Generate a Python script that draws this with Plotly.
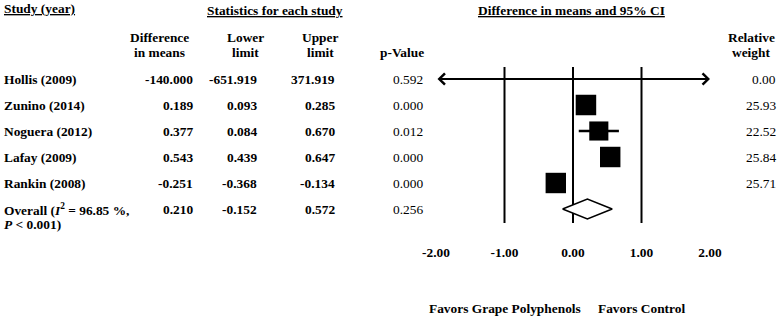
import plotly.graph_objects as go
import math

# ---------------- data ----------------
studies = ["Hollis (2009)", "Zunino (2014)", "Noguera (2012)", "Lafay (2009)", "Rankin (2008)"]
diff_means = [-140.000, 0.189, 0.377, 0.543, -0.251]
lower_limits = [-651.919, 0.093, 0.084, 0.439, -0.368]
upper_limits = [371.919, 0.285, 0.670, 0.647, -0.134]
p_values = [0.592, 0.000, 0.012, 0.000, 0.000]
rel_weights = [0.00, 25.93, 22.52, 25.84, 25.71]

overall_label = ["Overall (<i>I</i><sup>2</sup> = 96.85 %,", "<i>P</i> < 0.001)"]
overall_mean = 0.210
overall_lower = -0.152
overall_upper = 0.572
overall_p = 0.256

tick_vals = [-2, -1, 0, 1, 2]
tick_labels = ["-2.00", "-1.00", "0.00", "1.00", "2.00"]
ref_lines = [-1, 0, 1]
favors_left = "Favors Grape Polyphenols"
favors_right = "Favors Control"

# ---------------- layout constants ----------------
W, H = 778, 317
FONT = "Liberation Serif"
FS = 13.4
XMIN, XMAX = -2, 2
ROW0, ROWSTEP = 79, 26
row_y = [ROW0 + ROWSTEP * i for i in range(len(studies))]
overall_y = ROW0 + ROWSTEP * len(studies)

fig = go.Figure()
XA = dict(xaxis="x2", yaxis="y")

# vertical reference lines
vx, vy = [], []
for r in ref_lines:
    vx += [r, r, None]
    vy += [67, 223, None]
fig.add_trace(go.Scatter(x=vx, y=vy, mode="lines", line=dict(color="black", width=2),
                         hoverinfo="skip", showlegend=False, **XA))

# CI lines and squares
ref_w = max(rel_weights)
for i in range(len(studies)):
    lo, hi, m = lower_limits[i], upper_limits[i], diff_means[i]
    if lo < XMIN or hi > XMAX:
        fig.add_annotation(x=min(hi, XMAX), y=row_y[i], ax=max(lo, XMIN), ay=row_y[i],
                           xref="x2", yref="y", axref="x2", ayref="y", text="",
                           showarrow=True, arrowhead=4, startarrowhead=4,
                           arrowside="end+start", arrowwidth=2, arrowsize=1.1,
                           startarrowsize=1.1, arrowcolor="black", standoff=0,
                           startstandoff=0)
        continue
    fig.add_trace(go.Scatter(x=[lo, hi], y=[row_y[i], row_y[i]], mode="lines",
                             line=dict(color="black", width=2.5),
                             hoverinfo="skip", showlegend=False, **XA))
    fig.add_trace(go.Scatter(x=[m], y=[row_y[i]], mode="markers",
                             marker=dict(symbol="square", color="black",
                                         size=20.5 * math.sqrt(rel_weights[i] / ref_w),
                                         line=dict(width=0)),
                             hoverinfo="skip", showlegend=False, **XA))

# overall diamond
fig.add_trace(go.Scatter(
    x=[overall_lower, overall_mean, overall_upper, overall_mean, overall_lower],
    y=[overall_y, overall_y - 10, overall_y, overall_y + 10, overall_y],
    mode="lines", fill="toself", fillcolor="white",
    line=dict(color="black", width=1.6), hoverinfo="skip", showlegend=False, **XA))


def txt(x, y, s, anchor="left", bold=True, size=FS, xref="x"):
    fig.add_annotation(x=x, y=y, xref=xref, yref="y",
                       text=s, showarrow=False, xanchor=anchor, yanchor="middle",
                       font=dict(family=FONT, size=size, color="black",
                                 weight="bold" if bold else "normal"),
                       borderpad=0)


# headers
txt(3, 8, "<u>Study (year)</u>", "left")
txt(275, 10, "<u>Statistics for each study</u>", "center")
txt(571, 10, "<u>Difference in means and 95% CI</u>", "center")
txt(159, 37, "Difference", "center")
txt(159, 52, "in means", "center")
txt(245, 37, "Lower", "center")
txt(245, 52, "limit", "center")
txt(320, 37, "Upper", "center")
txt(320, 52, "limit", "center")
txt(402, 52, "p-Value", "center")
txt(751, 37, "Relative", "center")
txt(751, 52, "weight", "center")

# rows
for i, name in enumerate(studies):
    y = row_y[i]
    txt(3, y, name, "left")
    txt(194, y, f"{diff_means[i]:.3f}", "right")
    txt(258, y, f"{lower_limits[i]:.3f}", "right")
    txt(336, y, f"{upper_limits[i]:.3f}", "right")
    txt(392, y, f"{p_values[i]:.3f}", "left", bold=False)
    txt(777, y, f"{rel_weights[i]:.2f}", "right", bold=False)

# overall row
txt(3, overall_y, overall_label[0], "left")
txt(3, overall_y + 15, overall_label[1], "left")
txt(194, overall_y, f"{overall_mean:.3f}", "right")
txt(258, overall_y, f"{overall_lower:.3f}", "right")
txt(336, overall_y, f"{overall_upper:.3f}", "right")
txt(392, overall_y, f"{overall_p:.3f}", "left", bold=False)

# favors labels (on the effect-size scale)
txt(ref_lines[0], 308, favors_left, "center", xref="x2")
txt(ref_lines[-1], 308, favors_right, "center", xref="x2")

fig.update_layout(
    width=W, height=H, margin=dict(l=0, r=0, t=0, b=0, autoexpand=False),
    paper_bgcolor="white", plot_bgcolor="white", showlegend=False,
    xaxis=dict(domain=[0, 1], range=[0, W], visible=False, fixedrange=True),
    xaxis2=dict(domain=[436 / W, 710 / W], range=[XMIN, XMAX], anchor="free",
                position=(H - 243) / H, showgrid=False, zeroline=False,
                showline=False, ticks="", tickvals=tick_vals, ticktext=tick_labels,
                tickfont=dict(family=FONT, size=FS, color="black", weight="bold"),
                fixedrange=True, automargin=False),
    yaxis=dict(domain=[0, 1], range=[H, 0], visible=False, fixedrange=True),
)

fig.write_html("out.html", config={"displayModeBar": False},
               post_script="document.body.style.margin='0px';")
